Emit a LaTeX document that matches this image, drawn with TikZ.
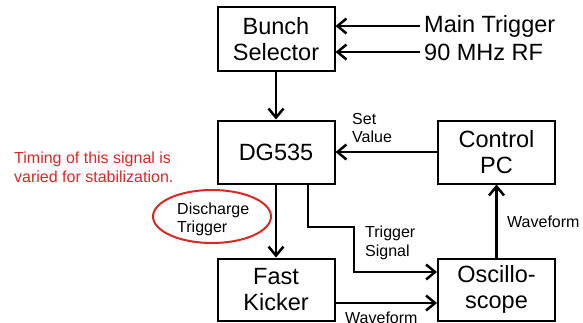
\documentclass[tikz,border=0pt]{standalone}
\usepackage{fontspec}
\setmainfont{Liberation Sans}
\usetikzlibrary{arrows.meta,positioning,calc,shapes.geometric}
\definecolor{notered}{RGB}{218,40,36}

\begin{document}
\begin{tikzpicture}[
  x=1pt, y=-1pt,
  >={Straight Barb[length=9pt, width=15pt]},
  block/.style={rectangle, draw, line width=2pt, minimum width=117pt,
                minimum height=63pt, align=center, inner sep=0pt,
                font=\fontsize{23.5}{26}\selectfont},
  sig/.style={->, line width=2.5pt},
  siglab/.style={font=\fontsize{16}{18.5}\selectfont, align=left,
                 inner sep=0pt, anchor=west},
  inlab/.style={font=\fontsize{23.5}{26}\selectfont, inner sep=0pt, anchor=west}
]
\useasboundingbox (0,0) rectangle (583,322);

% ---------- Blocks ----------
\node[block, minimum height=64pt] (BS) at (276,39) {Bunch\\Selector};
\node[block] (DG) at (276,152)   {DG535};
\node[block] (PC) at (496.5,152) {Control\\PC};
\node[block, minimum height=62pt] (FK) at (276,289.5)   {Fast\\Kicker};
\node[block, minimum height=62pt] (OS) at (496.5,289.5) {Oscillo-\\scope};

% ---------- Inputs ----------
\node[inlab] (MT) at (424,26) {Main Trigger};
\node[inlab] (RF) at (424,52) {90 MHz RF};
\draw[sig] ([xshift=-4pt]MT.west) -- (MT.west -| BS.east);
\draw[sig] ([xshift=-4pt]RF.west) -- (RF.west -| BS.east);

% ---------- Signals ----------
\draw[sig] (BS) -- (DG);
\draw[sig] (PC) -- (DG);
\draw[sig] (DG) -- (FK);
\coordinate (tbend) at (354,227);
\draw[sig] ([xshift=32pt]DG.south) |- (tbend) |- ([yshift=17.5pt]OS.west);
\draw[sig] ([yshift=-13.5pt]FK.east) -- ([yshift=-13.5pt]OS.west);
\draw[sig] (OS) -- (PC);

% ---------- Labels ----------
\node[siglab] (SV) at (352,128) {Set\\Value};
\node[siglab] (TS) at (365,243) {Trigger\\Signal};
\node[siglab] (WF1) at (507,222) {Waveform};
\node[siglab] (WF2) at (345,318) {Waveform};

% ---------- Note ----------
\node[siglab, text=notered] (note) at (14,167.5)
  {Timing of this signal is\\varied for stabilization.};
\node[ellipse, draw=notered, line width=2pt, minimum width=118pt,
      minimum height=53pt, inner sep=0pt] (DT) at (212,216.5) {};
\node[siglab] (DTlab) at (177,219.5) {Discharge\\Trigger};

\end{tikzpicture}
\end{document}
